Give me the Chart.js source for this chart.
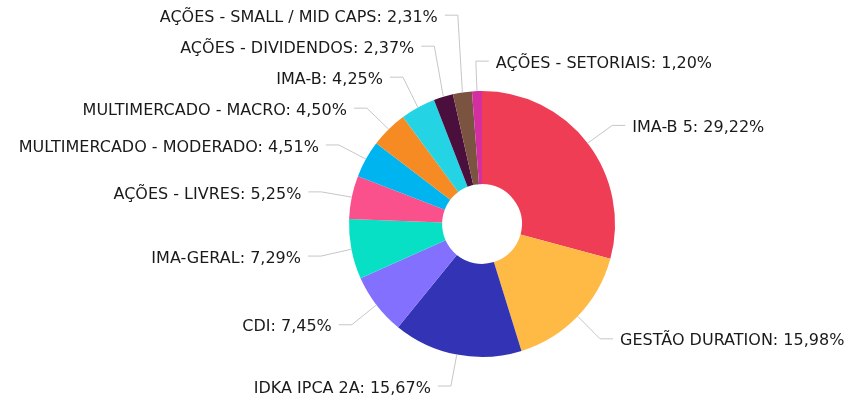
<!DOCTYPE html>
<html>
<head>
<meta charset="utf-8">
<script src="https://cdn.jsdelivr.net/npm/chart.js@4.4.1/dist/chart.umd.min.js"></script>
<style>
  html, body { margin: 0; padding: 0; background: #ffffff; }
  #wrap { width: 850px; height: 402px; position: relative; }
</style>
</head>
<body>
<div id="wrap"><canvas id="c" width="850" height="402"></canvas></div>
<script>
const categories = [
  "IMA-B 5",
  "GESTÃO DURATION",
  "IDKA IPCA 2A",
  "CDI",
  "IMA-GERAL",
  "AÇÕES - LIVRES",
  "MULTIMERCADO - MODERADO",
  "MULTIMERCADO - MACRO",
  "IMA-B",
  "AÇÕES - DIVIDENDOS",
  "AÇÕES - SMALL / MID CAPS",
  "AÇÕES - SETORIAIS"
];
const values = [29.22, 15.98, 15.67, 7.45, 7.29, 5.25, 4.51, 4.50, 4.25, 2.37, 2.31, 1.20];
const colors = [
  "#EF3D56", "#FFBA45", "#3333B5", "#8470FF", "#08E0C6", "#FA508C",
  "#00B4F0", "#F68B24", "#25D4E4", "#4A0F3C", "#7A5440", "#D42FA0"
];

const FONT = '16px "DejaVu Sans", sans-serif';

const outsideLabels = {
  id: 'outsideLabels',
  afterDatasetsDraw(chart) {
    const ctx = chart.ctx;
    const meta = chart.getDatasetMeta(0);
    const items = [];
    meta.data.forEach((arc, i) => {
      const p = arc.getProps(['x', 'y', 'startAngle', 'endAngle', 'outerRadius'], true);
      const mid = (p.startAngle + p.endAngle) / 2;
      const cos = Math.cos(mid), sin = Math.sin(mid);
      const R = p.outerRadius;
      const lr = R + 31;
      items.push({
        i,
        ex: p.x + cos * R, ey: p.y + sin * R,
        bx: p.x + cos * lr, by: p.y + 1 + sin * lr,
        right: cos >= -0.1,
        text: categories[i] + ': ' + values[i].toFixed(2).replace('.', ',') + '%'
      });
    });
    const gap = 31;
    const right = items.filter(d => d.right).sort((a, b) => a.by - b.by);
    for (let k = 1; k < right.length; k++) {
      right[k].by = Math.max(right[k].by, right[k - 1].by + gap);
    }
    const left = items.filter(d => !d.right).sort((a, b) => b.by - a.by);
    for (let k = 1; k < left.length; k++) {
      left[k].by = Math.min(left[k].by, left[k - 1].by - gap);
    }
    ctx.save();
    ctx.font = FONT;
    ctx.textBaseline = 'middle';
    items.forEach(d => {
      const dir = d.right ? 1 : -1;
      const hx = d.bx + dir * 13;
      ctx.strokeStyle = '#C6C6C6';
      ctx.lineWidth = 1;
      ctx.beginPath();
      ctx.moveTo(d.ex, d.ey);
      ctx.lineTo(d.bx, d.by);
      ctx.lineTo(hx, d.by);
      ctx.stroke();
      ctx.fillStyle = '#1A1A1A';
      ctx.textAlign = d.right ? 'left' : 'right';
      ctx.fillText(d.text, hx + dir * 7, d.by + 2.5);
    });
    ctx.restore();
  }
};

new Chart(document.getElementById('c'), {
  type: 'doughnut',
  data: {
    labels: categories,
    datasets: [{
      data: values,
      backgroundColor: colors,
      borderWidth: 0,
      hoverOffset: 0
    }]
  },
  options: {
    responsive: false,
    animation: false,
    cutout: '30%',
    layout: { padding: { top: 91, bottom: 45, left: 349, right: 235 } },
    plugins: {
      legend: { display: false },
      tooltip: { enabled: false }
    }
  },
  plugins: [outsideLabels]
});
</script>
</body>
</html>
